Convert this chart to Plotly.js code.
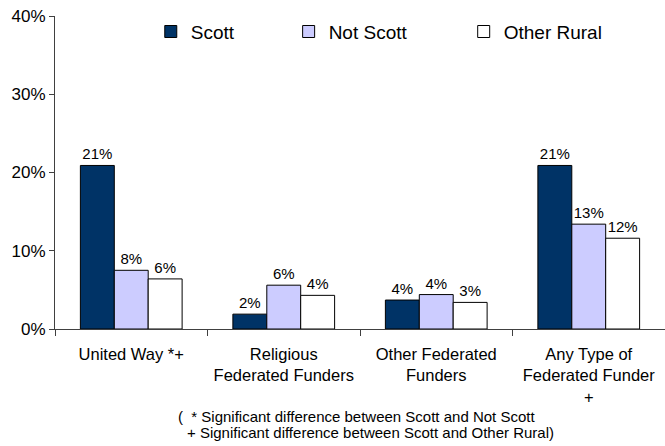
<!DOCTYPE html>
<html>
<head>
<meta charset="utf-8">
<script src="https://cdn.plot.ly/plotly-3.0.1.min.js"></script>
<style>html,body{margin:0;padding:0;background:#fff;}#chart{width:665px;height:446px;}</style>
</head>
<body>
<div id="chart"></div>
<script>
const categories = ["United Way *+", "Religious<br>Federated Funders", "Other Federated<br>Funders", "Any Type of<br>Federated Funder<br>+"];
const seriesNames = ["Scott", "Not Scott", "Other Rural"];
const scott = [20.9, 1.9, 3.7, 20.9];
const notScott = [7.5, 5.6, 4.4, 13.4];
const otherRural = [6.4, 4.3, 3.4, 11.6];
const yTicks = [0, 10, 20, 30, 40];
const footnote1 = "(  * Significant difference between Scott and Not Scott";
const footnote2 = "+ Significant difference between Scott and Other Rural)";

const colors = ["#003366", "#CCCCFF", "#FFFFFF"];
const values = [scott, notScott, otherRural];
const legends = ["legend", "legend2", "legend3"];
const FONT = "Liberation Sans, Arial, sans-serif";

const traces = values.map((v, i) => ({
  type: "bar",
  name: seriesNames[i],
  x: categories,
  y: v,
  legend: legends[i],
  marker: {color: colors[i], line: {color: "#000000", width: 1}},
  text: v.map(d => Math.round(d) + "%"),
  textposition: "outside",
  textfont: {family: FONT, size: 15, color: "#000"},
  constraintext: "none",
  cliponaxis: false,
  hoverinfo: "none"
}));

const legendCommon = {
  orientation: "h",
  xanchor: "left",
  yanchor: "middle",
  y: 0.95,
  font: {family: FONT, size: 19, color: "#000"},
  bgcolor: "rgba(0,0,0,0)",
  itemwidth: 30,
  tracegroupgap: 0
};

const layout = {
  width: 665,
  height: 446,
  margin: {l: 55, r: 0, t: 16, b: 117},
  paper_bgcolor: "#fff",
  plot_bgcolor: "#fff",
  font: {family: FONT, color: "#000"},
  barmode: "group",
  bargap: 0.333,
  bargroupgap: 0,
  xaxis: {
    type: "category",
    showline: true,
    linecolor: "#404040",
    linewidth: 1,
    ticks: "outside",
    tickson: "boundaries",
    ticklen: 6,
    tickcolor: "#404040",
    ticklabelstandoff: 10,
    tickfont: {family: FONT, size: 16.5, color: "#000"},
    showgrid: false,
    zeroline: false
  },
  yaxis: {
    range: [0, 40],
    tickvals: yTicks,
    ticktext: yTicks.map(t => t + "%"),
    showline: true,
    linecolor: "#404040",
    linewidth: 1,
    ticks: "outside",
    ticklen: 5,
    tickcolor: "#404040",
    tickfont: {family: FONT, size: 17, color: "#000"},
    showgrid: false,
    zeroline: false
  },
  legend: Object.assign({}, legendCommon, {x: 0.157}),
  legend2: Object.assign({}, legendCommon, {x: 0.383}),
  legend3: Object.assign({}, legendCommon, {x: 0.67}),
  annotations: [
    {xref: "paper", yref: "paper", x: 0.198, y: -0.279, xanchor: "left", yanchor: "middle", showarrow: false,
     text: footnote1, font: {family: FONT, size: 15, color: "#000"}},
    {xref: "paper", yref: "paper", x: 0.213, y: -0.33, xanchor: "left", yanchor: "middle", showarrow: false,
     text: footnote2, font: {family: FONT, size: 15, color: "#000"}}
  ],
  showlegend: true
};

Plotly.newPlot("chart", traces, layout, {staticPlot: true, displayModeBar: false});
</script>
</body>
</html>
